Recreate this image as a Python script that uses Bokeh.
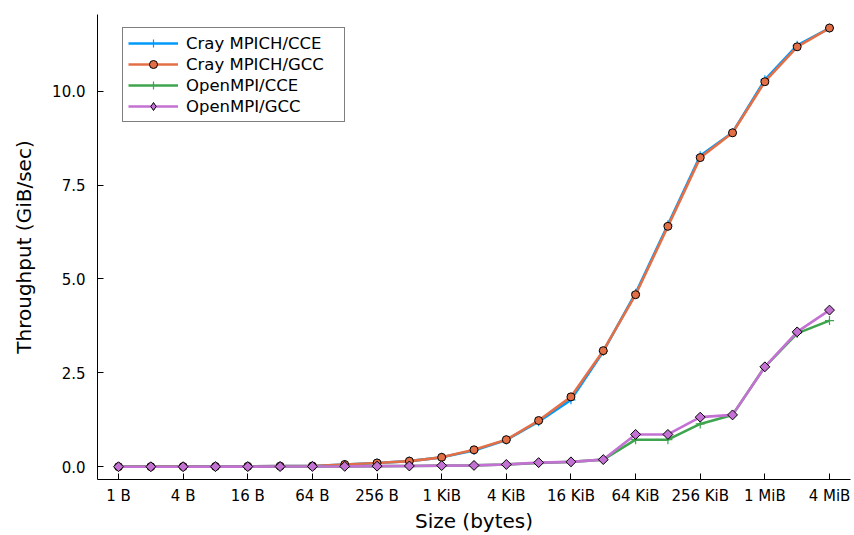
import math
from bokeh.plotting import figure
from bokeh.models import Range1d, FixedTicker, Legend, LegendItem, NumeralTickFormatter
from bokeh.embed import file_html
from bokeh.resources import INLINE

# message size exponent (size = 2**exp bytes)
size_exp = list(range(23))
tick_exp = [0, 2, 4, 6, 8, 10, 12, 14, 16, 18, 20, 22]
tick_labels = ["1 B", "4 B", "16 B", "64 B", "256 B", "1 KiB", "4 KiB",
               "16 KiB", "64 KiB", "256 KiB", "1 MiB", "4 MiB"]

mpich_cce = [0.001, 0.002, 0.004, 0.008, 0.010, 0.015, 0.020, 0.06, 0.10, 0.15, 0.25,
             0.43, 0.71, 1.20, 1.78, 3.07, 4.62, 6.44, 8.28, 8.90, 10.30, 11.22, 11.68]
mpich_gcc = [0.001, 0.002, 0.004, 0.008, 0.010, 0.015, 0.020, 0.06, 0.10, 0.15, 0.25,
             0.45, 0.72, 1.23, 1.86, 3.09, 4.58, 6.40, 8.23, 8.89, 10.25, 11.18, 11.68]
ompi_cce = [0.000, 0.000, 0.001, 0.002, 0.003, 0.005, 0.007, 0.010, 0.015, 0.020, 0.030,
            0.035, 0.06, 0.10, 0.13, 0.19, 0.72, 0.72, 1.14, 1.38, 2.66, 3.55, 3.89]
ompi_gcc = [0.000, 0.000, 0.001, 0.002, 0.003, 0.005, 0.007, 0.010, 0.015, 0.020, 0.030,
            0.035, 0.06, 0.11, 0.13, 0.19, 0.86, 0.86, 1.32, 1.38, 2.66, 3.59, 4.17]

FONT = "DejaVu Sans"
NAN = float("nan")

p = figure(width=854, height=535, output_backend="svg", toolbar_location=None,
           x_range=Range1d(-0.65, 22.65), y_range=Range1d(-0.34, 12.04),
           min_border_left=97, min_border_right=4, min_border_top=14, min_border_bottom=50)
p.outline_line_color = None
p.xgrid.visible = False
p.ygrid.visible = False
p.background_fill_color = "white"
p.border_fill_color = "white"

p.xaxis.ticker = FixedTicker(ticks=tick_exp)
p.xaxis.major_label_overrides = {e: l for e, l in zip(tick_exp, tick_labels)}
p.yaxis.ticker = FixedTicker(ticks=[0, 2.5, 5, 7.5, 10])
p.yaxis.formatter = NumeralTickFormatter(format="0.0")
p.xaxis.axis_label = "Size (bytes)"
p.yaxis.axis_label = "Throughput (GiB/sec)"

for ax in (p.xaxis, p.yaxis):
    ax.axis_line_color = "black"
    ax.axis_line_width = 1
    ax.major_tick_in = 6
    ax.major_tick_out = 0
    ax.minor_tick_line_color = None
    ax.major_tick_line_color = "black"
    ax.major_label_text_font = FONT
    ax.major_label_text_font_size = "15px"
    ax.major_label_text_color = "black"
    ax.axis_label_text_font = FONT
    ax.axis_label_text_font_size = "20px"
    ax.axis_label_text_font_style = "normal"
    ax.axis_label_text_color = "black"
p.xaxis.major_label_standoff = 7
p.yaxis.major_label_standoff = 12
p.xaxis.axis_label_standoff = 1
p.yaxis.axis_label_standoff = 13

series = [
    ("Cray MPICH/CCE", mpich_cce, "#009AFA", "cross", 9, None, 0, "cross"),
    ("Cray MPICH/GCC", mpich_gcc, "#E36F47", "circle", 8, "black", 0, "circle"),
    ("OpenMPI/CCE", ompi_cce, "#3EA44E", "cross", 9, None, 0, "cross"),
    ("OpenMPI/GCC", ompi_gcc, "#C371D2", "square", 7, "black", math.pi / 4, "diamond"),
]

items = []
for name, ys, col, mk, sz, edge, ang, legmk in series:
    r1 = p.line(size_exp, ys, line_color=col, line_width=2.6)
    lc = col if edge is None else edge
    lw = 1.2 if edge is None else 1
    p.scatter(size_exp, ys, marker=mk, size=sz, angle=ang, line_color=lc,
              line_width=lw, fill_color=col)
    # legend-only marker renderer (a single NaN point, never drawn in the plot)
    rl = p.scatter(x=[NAN], y=[NAN], marker=legmk, size=sz, line_color=lc,
                   line_width=lw, fill_color=col)
    items.append(LegendItem(label=name, renderers=[r1, rl]))

legend = Legend(items=items, location=(25, 357), orientation="vertical")
legend.label_text_font = FONT
legend.label_text_font_size = "16.5px"
legend.label_text_color = "black"
legend.glyph_width = 50
legend.glyph_height = 20
legend.label_height = 20
legend.label_width = 153
legend.label_standoff = 8
legend.spacing = 1
legend.padding = 5
legend.margin = 0
legend.border_line_color = "black"
legend.border_line_width = 1
legend.background_fill_color = "white"
legend.background_fill_alpha = 1
p.add_layout(legend, "center")

open("out.html", "w").write(file_html(p, INLINE))
